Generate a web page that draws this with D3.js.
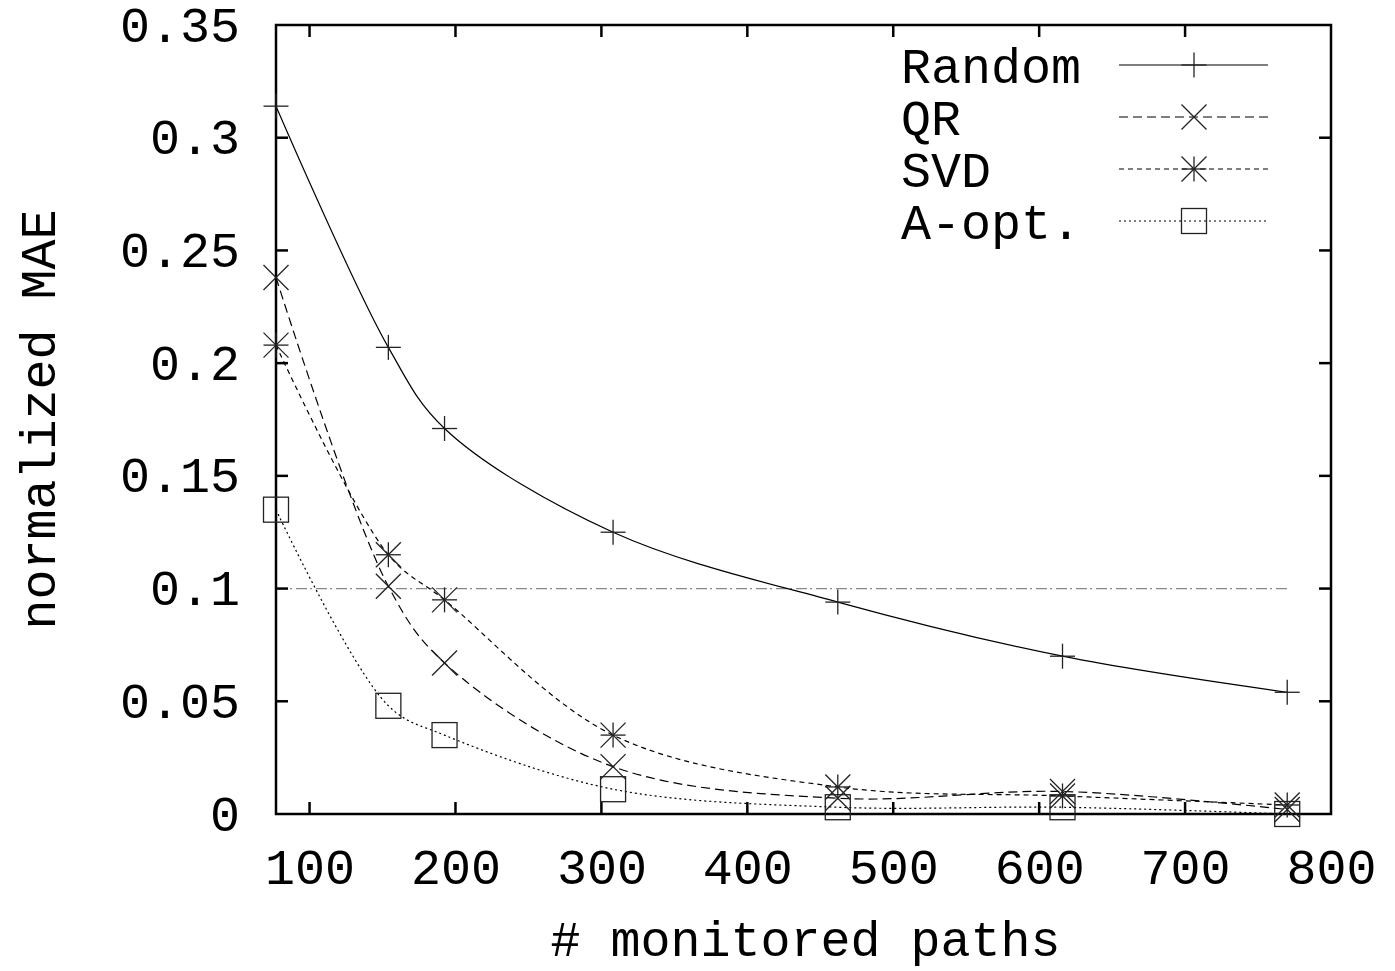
<!DOCTYPE html>
<html><head><meta charset="utf-8">
<script src="https://cdn.jsdelivr.net/npm/d3@7"></script>
<style>
html,body{margin:0;padding:0;background:#fff;}
text{font-family:"Liberation Mono","DejaVu Sans Mono",monospace;fill:#000;}
</style></head>
<body>
<svg id="chart" width="1395" height="971"></svg>
<script>
const xValues = [77, 154, 192.5, 308, 462, 616, 770];
const seriesNames = ["Random", "QR", "SVD", "A-opt."];
const randomVals = [0.314, 0.207, 0.171, 0.125, 0.094, 0.070, 0.054];
const qrVals     = [0.238, 0.101, 0.067, 0.021, 0.007, 0.010, 0.002];
const svdVals    = [0.208, 0.115, 0.095, 0.035, 0.012, 0.008, 0.004];
const aoptVals   = [0.135, 0.048, 0.035, 0.011, 0.003, 0.003, 0.000];
const thresholdValue = 0.1;
const xTicks = [100, 200, 300, 400, 500, 600, 700, 800];
const yTicks = [0, 0.05, 0.1, 0.15, 0.2, 0.25, 0.3, 0.35];
const yTickLabels = ["0", "0.05", "0.1", "0.15", "0.2", "0.25", "0.3", "0.35"];

const svg = d3.select("#chart");
const L = 276, R = 1331, T = 25, B = 814;
const x = d3.scaleLinear().domain([77, 800]).range([L, R]);
const y = d3.scaleLinear().domain([0, 0.35]).range([B, T]);
const FS = 50;

// threshold line
svg.append("line")
  .attr("x1", x(xValues[0])).attr("x2", x(xValues[xValues.length-1]))
  .attr("y1", y(thresholdValue)).attr("y2", y(thresholdValue))
  .attr("stroke", "#888").attr("stroke-width", 1.3)
  .attr("stroke-dasharray", "11,3,2,4");

// axes frame
svg.append("rect").attr("x", L).attr("y", T).attr("width", R-L).attr("height", B-T)
  .attr("fill", "none").attr("stroke", "#000").attr("stroke-width", 2.5);

// x ticks (bottom + top mirrored)
const xAxisB = d3.axisBottom(x).tickValues(xTicks).tickSize(0).tickFormat(d3.format("d"));
const gxb = svg.append("g").attr("transform", `translate(0,${B})`).call(xAxisB);
gxb.select(".domain").remove();
gxb.selectAll("text").attr("dy", 0).attr("y", 70).style("font-size", FS+"px")
  .style("font-family", '"Liberation Mono", monospace');
xTicks.forEach(t => {
  if (x(t) <= R - 2) {
    svg.append("line").attr("x1", x(t)).attr("x2", x(t)).attr("y1", B).attr("y2", B-12).attr("stroke","#000").attr("stroke-width",2.5);
    svg.append("line").attr("x1", x(t)).attr("x2", x(t)).attr("y1", T).attr("y2", T+12).attr("stroke","#000").attr("stroke-width",2.5);
  }
});

// y ticks
const yAxis = d3.axisLeft(y).tickValues(yTicks).tickSize(0).tickFormat((d,i) => yTickLabels[i]);
const gy = svg.append("g").attr("transform", `translate(${L},0)`).call(yAxis);
gy.select(".domain").remove();
gy.selectAll("text").attr("x", -36).attr("dy", "0.32em").style("font-size", FS+"px")
  .style("font-family", '"Liberation Mono", monospace');
yTicks.forEach(t => {
  if (t > 0 && t < 0.35) {
    svg.append("line").attr("x1", L).attr("x2", L+12).attr("y1", y(t)).attr("y2", y(t)).attr("stroke","#000").attr("stroke-width",2.5);
    svg.append("line").attr("x1", R).attr("x2", R-12).attr("y1", y(t)).attr("y2", y(t)).attr("stroke","#000").attr("stroke-width",2.5);
  }
});

// axis titles
svg.append("text").attr("x", (L+R)/2 + 2).attr("y", 956).attr("text-anchor", "middle")
  .style("font-size", FS+"px").text("# monitored paths");
svg.append("text").attr("transform", `translate(55,${(T+B)/2}) rotate(-90)`).attr("text-anchor", "middle")
  .style("font-size", FS+"px").text("normalized MAE");

// markers
const MS = 12.5;
function drawMarker(g, kind, cx, cy) {
  const st = {stroke: "#222", "stroke-width": 1.3, fill: "none"};
  const add = (x1,y1,x2,y2) => { const l = g.append("line").attr("x1",x1).attr("y1",y1).attr("x2",x2).attr("y2",y2); Object.entries(st).forEach(([k,v])=>l.attr(k,v)); };
  if (kind === 0) { add(cx-MS,cy,cx+MS,cy); add(cx,cy-MS,cx,cy+MS); }
  else if (kind === 1) { add(cx-MS,cy-MS,cx+MS,cy+MS); add(cx-MS,cy+MS,cx+MS,cy-MS); }
  else if (kind === 2) { add(cx-MS,cy,cx+MS,cy); add(cx,cy-MS,cx,cy+MS); add(cx-MS,cy-MS,cx+MS,cy+MS); add(cx-MS,cy+MS,cx+MS,cy-MS); }
  else { const r = g.append("rect").attr("x",cx-MS).attr("y",cy-MS).attr("width",2*MS).attr("height",2*MS); Object.entries(st).forEach(([k,v])=>r.attr(k,v)); }
}

const allSeries = [randomVals, qrVals, svdVals, aoptVals];
const dashes = [null, "9,5", "5,4", "2,3"];
const line = d3.line().x(d => x(d[0])).y(d => y(d[1])).curve(d3.curveCatmullRom.alpha(0.5));

allSeries.forEach((vals, i) => {
  const pts = xValues.map((xv, j) => [xv, vals[j]]);
  const p = svg.append("path").attr("d", line(pts)).attr("fill", "none")
    .attr("stroke", "#000").attr("stroke-width", 1.2);
  if (dashes[i]) p.attr("stroke-dasharray", dashes[i]);
  const g = svg.append("g");
  pts.forEach(pt => drawMarker(g, i, x(pt[0]), y(pt[1])));
});

// legend
const legY = [65, 117, 169, 221];
seriesNames.forEach((name, i) => {
  svg.append("text").attr("x", 901).attr("y", legY[i]).attr("dy", "0.35em")
    .style("font-size", FS+"px").text(name);
  const l = svg.append("line").attr("x1", 1119).attr("x2", 1268).attr("y1", legY[i]).attr("y2", legY[i])
    .attr("stroke", "#000").attr("stroke-width", 1.2);
  if (dashes[i]) l.attr("stroke-dasharray", dashes[i]);
  drawMarker(svg.append("g"), i, 1194, legY[i]);
});
</script>
</body></html>
